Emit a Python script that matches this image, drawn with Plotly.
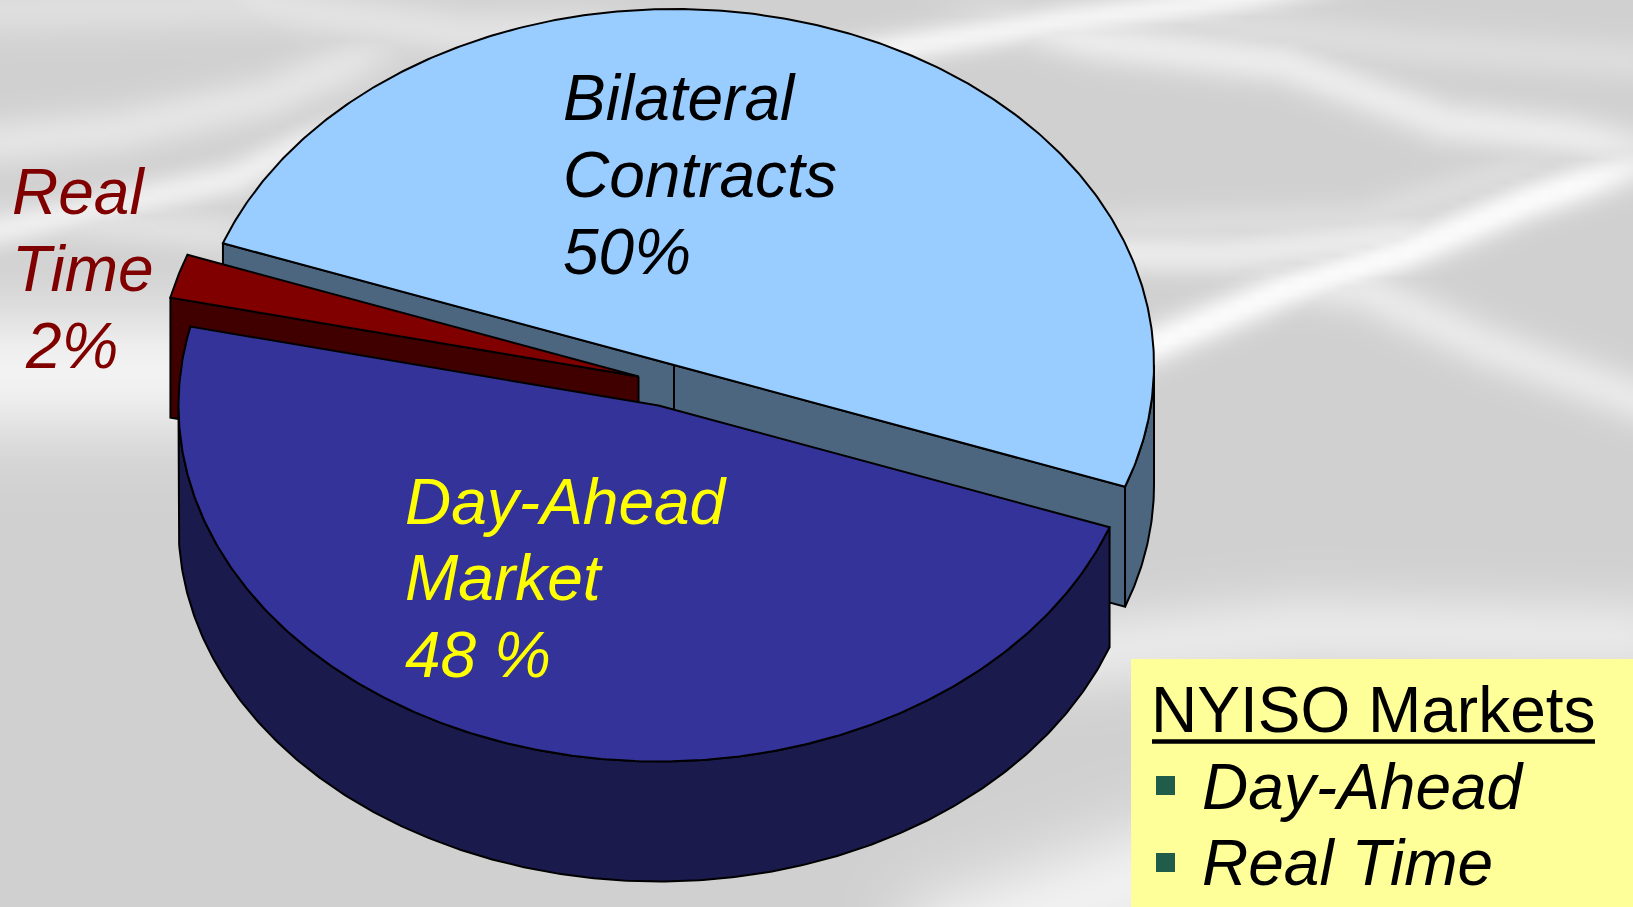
import numpy as np
import plotly.graph_objects as go

# ---- data -------------------------------------------------------------
markets = ["Bilateral Contracts", "Day-Ahead Market", "Real Time"]
shares = [50, 48, 2]
legend_title = "NYISO Markets"
legend_items = ["Day-Ahead", "Real Time"]

# ---- style / geometry ---------------------------------------------------
W, H = 1633, 907
RX, RY, DEPTH = 480.0, 356.0, 120.0
START = 110.0                         # clockwise angle where Day-Ahead starts
CENTERS = {"Bilateral Contracts": (674, 365), "Day-Ahead Market": (658.5, 405.5), "Real Time": (638.5, 376.5)}
TOP = {"Bilateral Contracts": "#99CCFF", "Day-Ahead Market": "#333399", "Real Time": "#800000"}
SIDE = {"Bilateral Contracts": "#4D6680", "Day-Ahead Market": "#1A1A4D", "Real Time": "#400000"}
FONT = "Liberation Sans"
FS = 64

# background streaks: polyline, sigma, strength
STREAKS = [
    ([(950, 430), (1135, 352), (1283, 290), (1404, 252), (1525, 202), (1740, 130)], 14, 44),
    ([(640, 90), (880, 50), (1065, 20), (1193, 4), (1400, -25)], 12, 36),
    ([(900, 0), (1100, 42), (1283, 63), (1444, 122), (1565, 135), (1760, 170)], 16, 27),
    ([(1000, 252), (1222, 254), (1500, 225)], 15, 26),
    ([(1180, 265), (1363, 290), (1484, 345), (1780, 450)], 18, 24),
    ([(1000, 230), (1363, 218), (1640, 130)], 14, 12),
    ([(1050, 5), (1404, 45), (1780, 70)], 16, 12),
    ([(-120, 155), (120, 130), (267, 97), (450, 20)], 18, 20),
    ([(-120, 255), (143, 198), (233, 178), (400, 100)], 13, 30),
    ([(-120, 235), (60, 218), (300, 240)], 16, 16),
    ([(150, -20), (300, 10), (467, 33), (680, 30)], 18, 18),
    ([(-120, 12), (380, 2)], 20, 14),
    ([(-300, 372), (320, 372)], 48, 34),
    ([(900, 670), (1300, 630), (1800, 640)], 30, 24),
    ([(850, 980), (1140, 880), (1400, 850)], 44, 32),
]


def background():
    xs = np.linspace(0, W, 205)
    ys = np.linspace(0, H, 115)
    gx, gy = np.meshgrid(xs, ys)
    lift = np.zeros(gx.shape)
    for pts, sig, amp in STREAKS:
        seg = [np.hypot(b[0] - a[0], b[1] - a[1]) for a, b in zip(pts[:-1], pts[1:])]
        total, walked = sum(seg), 0.0
        best = np.full(gx.shape, 1e9)
        along = np.zeros(gx.shape)
        for (x0, y0), (x1, y1), L in zip(pts[:-1], pts[1:], seg):
            dx, dy = x1 - x0, y1 - y0
            t = np.clip(((gx - x0) * dx + (gy - y0) * dy) / (L * L), 0, 1)
            d = np.hypot(gx - (x0 + t * dx), gy - (y0 + t * dy))
            near = d < best
            best[near] = d[near]
            along[near] = walked + t[near] * L
            walked += L
        # streaks fade out towards both ends
        fade = np.clip(np.minimum(along, total - along) / (0.22 * total), 0, 1)
        fade = fade * fade * (3 - 2 * fade)
        lift = np.maximum(lift, amp * fade * np.exp(-0.5 * (best / sig) ** 2))
    return xs, ys, np.clip(208.0 + lift, 0, 250)


def rim(c, a0, a1, drop=0.0):
    a = np.radians(np.linspace(a0, a1, max(int(abs(a1 - a0) * 2), 2)))
    return c[0] + RX * np.sin(a), c[1] - RY * np.cos(a) + drop


def poly(x, y, fill):
    return go.Scatter(x=np.asarray(x), y=np.asarray(y), mode="lines", fill="toself", fillcolor=fill,
                      line=dict(color="black", width=2), hoverinfo="skip", showlegend=False)


def top_face(name, a0, a1):
    c = CENTERS[name]
    x, y = rim(c, a0, a1)
    return poly([c[0], *x, c[0]], [c[1], *y, c[1]], TOP[name])


def cut_face(name, a):
    c = CENTERS[name]
    x, y = rim(c, a, a)
    ex, ey = x[0], y[0]
    return poly([c[0], ex, ex, c[0], c[0]], [c[1], ey, ey + DEPTH, c[1] + DEPTH, c[1]], SIDE[name])


def wall(name, a0, a1):
    c = CENTERS[name]
    x, y = rim(c, a0, a1)
    xb, yb = rim(c, a1, a0, DEPTH)
    return poly([*x, *xb, x[0]], [*y, *yb, y[0]], SIDE[name])


# slice angles follow from the shares
sweep = dict(zip(markets, np.array(shares) * 360.0 / sum(shares)))
da0 = START
da1 = da0 + sweep["Day-Ahead Market"]
rt1 = da1 + sweep["Real Time"]
bi1 = rt1 + sweep["Bilateral Contracts"]

fig = go.Figure()
bx, by, bz = background()
fig.add_trace(go.Heatmap(x=bx, y=by, z=bz, zmin=0, zmax=255, zsmooth="best", showscale=False, hoverinfo="skip",
                         colorscale=[[0, "#000000"], [1, "#ffffff"]]))

B, D, R = "Bilateral Contracts", "Day-Ahead Market", "Real Time"
fig.add_trace(cut_face(B, rt1))
fig.add_trace(cut_face(B, START))
fig.add_trace(wall(B, 90, START))
fig.add_trace(top_face(B, rt1, bi1))
fig.add_trace(cut_face(R, da1))
fig.add_trace(top_face(R, da1, rt1))
fig.add_trace(wall(D, da0, 270))
fig.add_trace(top_face(D, da0, da1))


def label(x, baseline, text, color="black", italic=True):
    t = f"<i>{text}</i>" if italic else text
    # the annotation box ends a little below the baseline
    fig.add_annotation(x=x, y=baseline + 0.212 * FS, text=t, showarrow=False, xanchor="left", yanchor="bottom",
                       font=dict(family=FONT, size=FS, color=color), borderpad=0, borderwidth=0)


for x, b, s in [(563, 120, "Bilateral"), (563, 197, "Contracts"), (563, 274, f"{shares[0]}%")]:
    label(x, b, s)
for x, b, s in [(405, 524, "Day-Ahead"), (405, 600, "Market"), (405, 677, f"{shares[1]} %")]:
    label(x, b, s, "#FFFF00")
for x, b, s in [(12, 214, "Real"), (12, 291, "Time"), (25, 368, f"{shares[2]}%")]:
    label(x, b, s, "#800000")

shapes = [
    dict(type="rect", xref="x", yref="y", x0=1131, x1=W, y0=659, y1=H, fillcolor="#FFFF99", line_width=0, layer="above"),
    dict(type="line", xref="x", yref="y", x0=1152, x1=1595, y0=741.5, y1=741.5, line=dict(color="black", width=4.5), layer="above"),
    dict(type="rect", xref="x", yref="y", x0=1156, x1=1175, y0=776, y1=795, fillcolor="#1F5C4A", line_width=0, layer="above"),
    dict(type="rect", xref="x", yref="y", x0=1156, x1=1175, y0=853, y1=872, fillcolor="#1F5C4A", line_width=0, layer="above"),
]
label(1151, 732, legend_title, italic=False)
label(1202, 809, legend_items[0])
label(1202, 885, legend_items[1])

fig.update_layout(
    width=W, height=H, margin=dict(l=0, r=0, t=0, b=0), paper_bgcolor="#d0d0d0", plot_bgcolor="#d0d0d0",
    xaxis=dict(range=[0, W], visible=False, fixedrange=True),
    yaxis=dict(range=[H, 0], visible=False, fixedrange=True),
    shapes=shapes, showlegend=False,
)
fig.write_html("out.html", post_script="document.body.style.margin='0';document.body.style.overflow='hidden';",
               config={"displayModeBar": False})
